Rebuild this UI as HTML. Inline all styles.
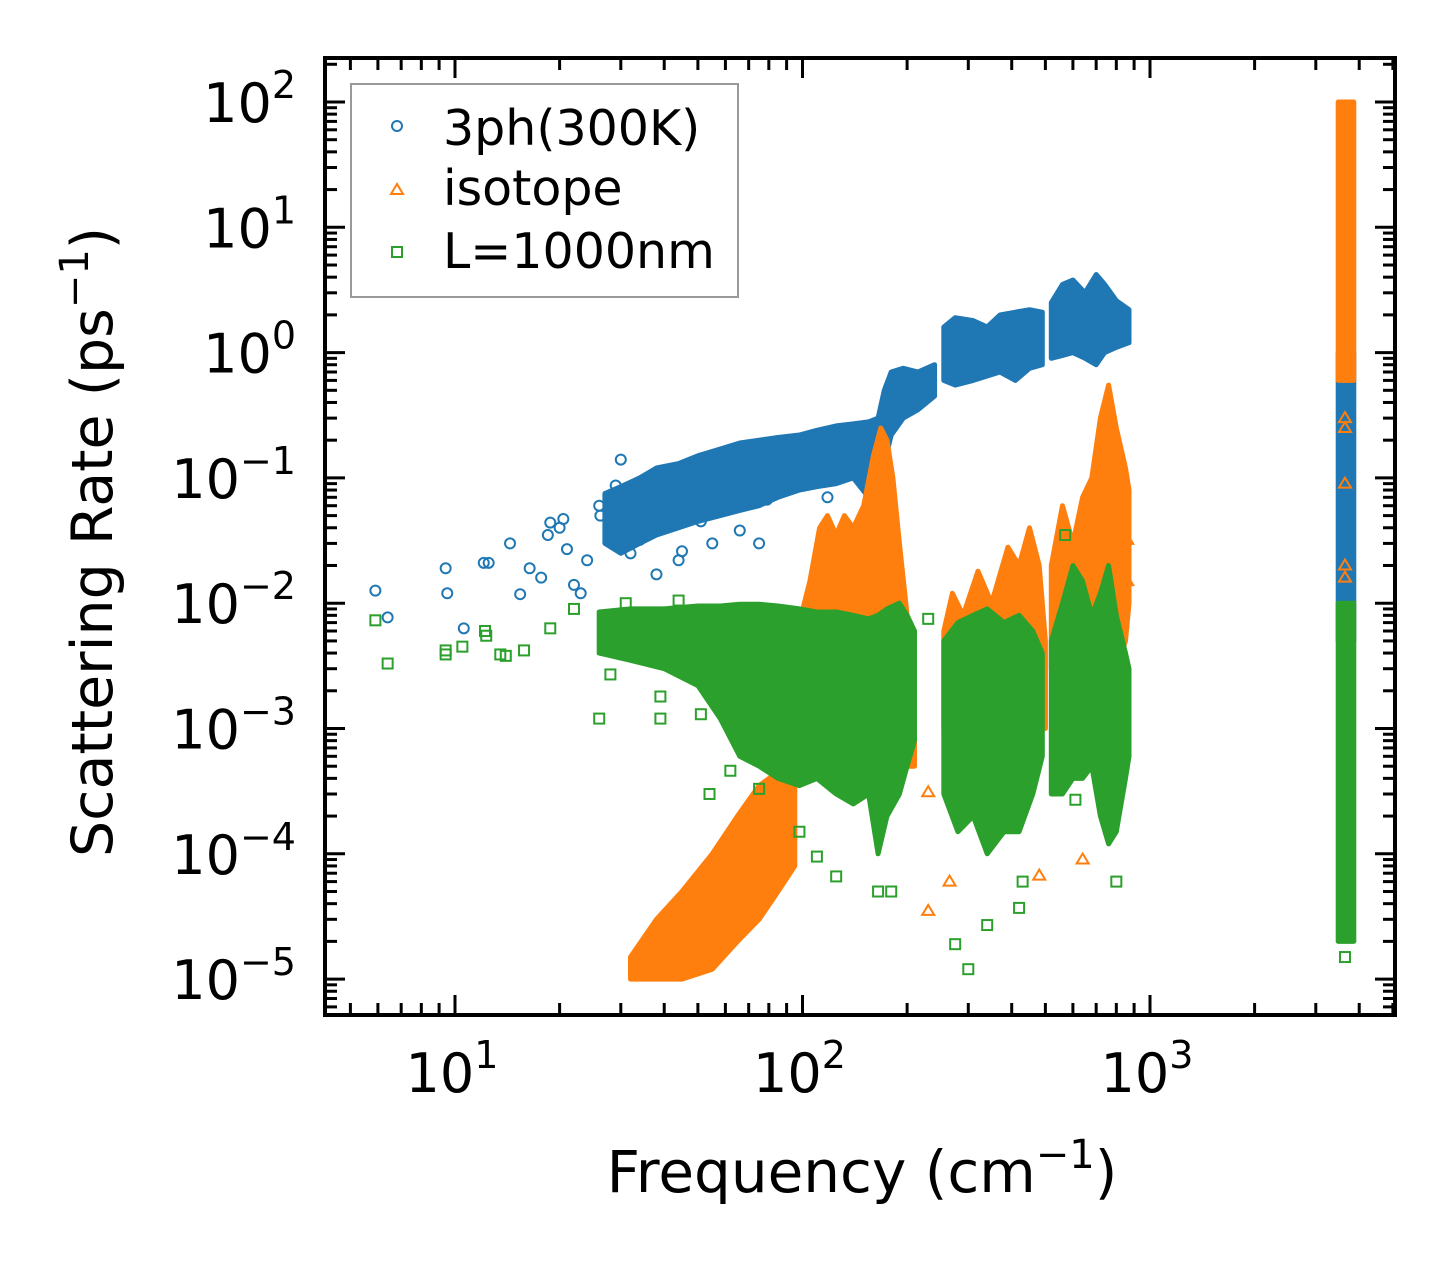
<!DOCTYPE html>
<html><head><meta charset="utf-8"><style>
html,body{margin:0;padding:0;background:#fff;}
svg text{font-family:"DejaVu Sans","Liberation Sans",sans-serif;fill:#000;}
</style></head><body>
<svg id="chart" width="1455" height="1265" viewBox="0 0 1455 1265" xmlns="http://www.w3.org/2000/svg">
<rect width="1455" height="1265" fill="#fff"/>
<g id="clusters"></g>
<g id="marks"></g>
<g id="axes"></g>
<g id="legend">
  <rect x="351" y="84" width="387" height="213" fill="#fff" fill-opacity="0.8" stroke="#999" stroke-width="2"/>
  <g>
    <circle cx="397" cy="126" r="5" fill="none" stroke="#1f77b4" stroke-width="2"/>
    <text x="443" y="145" font-size="49">3ph(300K)</text>
  </g>
  <g>
    <polygon points="397,184 391,194 403,194" fill="none" stroke="#ff7f0e" stroke-width="2"/>
    <text x="443" y="205" font-size="49">isotope</text>
  </g>
  <g>
    <rect x="392" y="247" width="10" height="10" fill="none" stroke="#2ca02c" stroke-width="2"/>
    <text x="443" y="268" font-size="49">L=1000nm</text>
  </g>
</g>
</svg>
<script>
// ---- data ----
const xMajorTicks = [10, 100, 1000];
const xTickExps = ['1', '2', '3'];
const yMajorTicks = [1e2, 1e1, 1e0, 1e-1, 1e-2, 1e-3, 1e-4, 1e-5];
const yTickExps = ['2', '1', '0', '\u22121', '\u22122', '\u22123', '\u22124', '\u22125'];

// dense clusters: [frequency, low rate, high rate]
const blueMain = [[27,0.03,0.075],[30,0.025,0.085],[34,0.03,0.1],[38,0.035,0.12],[44,0.04,0.13],[50,0.045,0.15],[58,0.05,0.17],[66,0.055,0.19],[75,0.06,0.2],[85,0.07,0.21],[98,0.08,0.22],[110,0.085,0.24],[125,0.09,0.26],[140,0.1,0.27],[155,0.07,0.28],[165,0.06,0.3],[172,0.13,0.5],[180,0.22,0.7],[195,0.3,0.75],[215,0.35,0.7],[240,0.45,0.8]];
const blueMid = [[255,0.6,1.6],[275,0.55,1.9],[310,0.6,1.8],[340,0.65,1.6],[370,0.7,2.0],[410,0.6,2.1],[450,0.75,2.2],[490,0.8,2.1]];
const blueHigh = [[520,0.9,2.5],[560,0.95,3.5],[600,1.0,3.8],[650,0.9,3.0],[700,0.8,4.2],[740,1.0,3.5],[800,1.1,2.6],[870,1.2,2.2]];
const blueRight = [[3480,0.005,1.0],[3860,0.005,1.0]];

const orangeLow = [[32,1e-5,1.5e-5],[38,1e-5,3e-5],[45,1e-5,5e-5],[55,1.2e-5,1e-4],[65,2e-5,2e-4],[75,3e-5,3.5e-4],[85,5e-5,4.5e-4],[95,8e-5,5e-4]];
const orangeMid = [[95,5e-4,0.005],[105,5e-4,0.015],[112,5e-4,0.04],[118,5e-4,0.05],[125,5e-4,0.035],[132,5e-4,0.05],[140,5e-4,0.04],[150,5e-4,0.06],[160,5e-4,0.15],[168,5e-4,0.25],[175,5e-4,0.2],[182,5e-4,0.1],[190,5e-4,0.03],[200,5e-4,0.008],[210,5e-4,0.003]];
const orangeMid2 = [[255,0.001,0.006],[270,0.001,0.012],[290,0.001,0.008],[320,0.001,0.018],[350,0.001,0.01],[390,0.001,0.028],[420,0.001,0.02],[450,0.001,0.04],[480,0.001,0.02],[500,0.001,0.005]];
const orangeHigh = [[520,0.003,0.02],[560,0.003,0.06],[600,0.003,0.03],[640,0.003,0.07],[680,0.003,0.1],[720,0.003,0.3],[760,0.003,0.55],[800,0.003,0.25],[850,0.005,0.12],[870,0.01,0.08]];
const orangeRight = [[3480,0.6,100],[3860,0.6,100]];

const greenMain = [[26,0.004,0.0085],[32,0.0035,0.009],[40,0.003,0.009],[50,0.0022,0.0095],[58,0.0012,0.0095],[66,0.0006,0.0098],[75,0.0005,0.0098],[85,0.0004,0.0095],[98,0.00035,0.009],[110,0.0004,0.0085],[125,0.0003,0.0085],[140,0.00025,0.008],[155,0.0003,0.0075],[165,0.0001,0.008],[175,0.0002,0.009],[190,0.0003,0.01],[200,0.0005,0.008],[210,0.0008,0.006]];
const greenMid = [[255,0.0003,0.005],[280,0.00015,0.007],[310,0.0002,0.008],[340,0.0001,0.009],[380,0.00015,0.007],[420,0.00015,0.008],[460,0.0003,0.006],[490,0.0006,0.004]];
const greenHigh = [[520,0.0003,0.005],[560,0.0003,0.01],[600,0.0004,0.02],[640,0.0004,0.015],[680,0.0005,0.008],[720,0.0002,0.012],[760,0.00012,0.02],[800,0.00015,0.008],[850,0.0004,0.004],[870,0.0006,0.003]];
const greenRight = [[3480,2e-5,0.01],[3860,2e-5,0.01]];

// sparse points: [frequency, rate]
const bluePoints = [[5.9,0.0126],[6.4,0.0077],[9.4,0.019],[9.5,0.012],[10.6,0.0063],[12.1,0.021],[12.5,0.021],[14.4,0.03],[15.4,0.0118],[16.4,0.019],[17.7,0.016],[18.5,0.035],[18.8,0.044],[20,0.04],[20.5,0.047],[21,0.027],[22,0.014],[23,0.012],[24,0.022],[26,0.06],[26.2,0.05],[29,0.087],[30,0.067],[30,0.14],[32,0.025],[34,0.032],[38,0.017],[44,0.022],[45,0.026],[51,0.045],[55,0.03],[66,0.038],[75,0.03],[79,0.067],[118,0.07],[3640,0.09]];
const orangePoints = [[230,3.1e-4],[230,3.5e-5],[265,6e-5],[480,6.7e-5],[640,9e-5],[860,0.015],[860,0.032],[3640,0.09],[3640,0.016],[3640,0.02],[3640,0.3],[3640,0.25]];
const greenPoints = [[5.9,0.0073],[6.4,0.0033],[9.4,0.0042],[9.4,0.0039],[10.5,0.0045],[12.2,0.006],[12.3,0.0055],[13.5,0.0039],[14,0.0038],[15.8,0.0042],[18.8,0.0063],[22,0.009],[26,0.0012],[28,0.0027],[31,0.01],[39,0.0012],[39,0.0018],[44,0.0105],[51,0.0013],[54,3e-4],[62,4.6e-4],[75,3.3e-4],[98,1.5e-4],[110,9.5e-5],[125,6.6e-5],[165,5e-5],[180,5e-5],[230,0.0075],[275,1.9e-5],[300,1.2e-5],[340,2.7e-5],[420,3.7e-5],[430,6e-5],[610,2.7e-4],[800,6e-5],[570,0.035],[718,0.0088],[3640,1.5e-5]];

// ---- axes ----
const PL = 325, PR = 1395, PT = 58, PB = 1015;
const X10 = 455, XDEC = 347.5, Y1 = 352.6, YDEC = 125.3;
function xs(f) { return X10 + XDEC * (Math.log10(f) - 1); }
function ys(r) { return Y1 - YDEC * Math.log10(r); }

const NS = 'http://www.w3.org/2000/svg';
function mk(tag, attrs, parent) {
  const e = document.createElementNS(NS, tag);
  for (const k in attrs) e.setAttribute(k, attrs[k]);
  parent.appendChild(e);
  return e;
}

const C = { blue: '#1f77b4', orange: '#ff7f0e', green: '#2ca02c' };
const gClusters = document.getElementById('clusters');
const gMarks = document.getElementById('marks');
const gAxes = document.getElementById('axes');

function cluster(arr, color, name) {
  const up = arr.map(d => xs(d[0]).toFixed(1) + ',' + ys(d[2]).toFixed(1));
  const lo = arr.slice().reverse().map(d => xs(d[0]).toFixed(1) + ',' + ys(d[1]).toFixed(1));
  const p = mk('polygon', { points: up.concat(lo).join(' '), fill: color, stroke: color, 'stroke-width': 5, 'stroke-linejoin': 'round' }, gClusters);
  
  
}
function points(arr, color, shape, name) {
  arr.forEach(d => {
    const x = xs(d[0]), y = ys(d[1]);
    let e;
    if (shape === 'circle') e = mk('circle', { cx: x, cy: y, r: 5, fill: 'none', stroke: color, 'stroke-width': 2 }, gMarks);
    else if (shape === 'tri') e = mk('polygon', { points: `${x},${y-6} ${x-6},${y+4} ${x+6},${y+4}`, fill: 'none', stroke: color, 'stroke-width': 2 }, gMarks);
    else e = mk('rect', { x: x-5, y: y-5, width: 10, height: 10, fill: 'none', stroke: color, 'stroke-width': 2 }, gMarks);
    
    
  });
}

[blueMain, blueMid, blueHigh, blueRight].forEach(a => cluster(a, C.blue, 'cluster-3ph'));
points(bluePoints, C.blue, 'circle', 'point-3ph');
[orangeLow, orangeMid, orangeMid2, orangeHigh, orangeRight].forEach(a => cluster(a, C.orange, 'cluster-isotope'));
points(orangePoints, C.orange, 'tri', 'point-isotope');
[greenMain, greenMid, greenHigh, greenRight].forEach(a => cluster(a, C.green, 'cluster-l1000nm'));
points(greenPoints, C.green, 'square', 'point-l1000nm');

// ticks
function tick(x1, y1, x2, y2, name) {
  const t = mk('line', { x1, y1, x2, y2, stroke: '#000', 'stroke-width': 3 }, gAxes);
  
  
}
for (let e = 0; e <= 3; e++) {
  for (let m = 1; m <= 9; m++) {
    const f = m * Math.pow(10, e);
    const x = xs(f);
    if (x < PL || x > PR) continue;
    const L = m === 1 ? 20 : 12;
    tick(x, PB, x, PB - L, 'x-tick');
    tick(x, PT, x, PT + L, 'x-tick-top');
  }
}
for (let e = -6; e <= 2; e++) {
  for (let m = 1; m <= 9; m++) {
    const r = m * Math.pow(10, e);
    const y = ys(r);
    if (y < PT || y > PB) continue;
    const L = m === 1 ? 20 : 12;
    tick(PL, y, PL + L, y, 'y-tick');
    tick(PR, y, PR - L, y, 'y-tick-right');
  }
}
const frame = mk('rect', { x: PL, y: PT, width: PR - PL, height: PB - PT, fill: 'none', stroke: '#000', 'stroke-width': 4 }, gAxes);



xMajorTicks.forEach((v, i) => {
  const t = mk('text', { x: xs(v) - 3, y: 1092, 'font-size': 54, 'text-anchor': 'middle' }, gAxes);
  
  
  t.textContent = '10';
  const s = mk('tspan', { 'font-size': 38, dy: -24 }, t);
  s.textContent = xTickExps[i];
});
yMajorTicks.forEach((v, i) => {
  const t = mk('text', { x: 296, y: ys(v) + 20, 'font-size': 54, 'text-anchor': 'end' }, gAxes);
  
  
  t.textContent = '10';
  const s = mk('tspan', { 'font-size': 38, dy: -24 }, t);
  s.textContent = yTickExps[i];
});

const xt = mk('text', { x: 862, y: 1192, 'font-size': 58, 'text-anchor': 'middle' }, gAxes);


xt.innerHTML = 'Frequency (cm<tspan font-size="40" dy="-24">\u22121</tspan><tspan dy="24">)</tspan>';
const yt = mk('text', { x: 0, y: 0, 'font-size': 57, 'text-anchor': 'middle', transform: 'translate(112,542) rotate(-90)' }, gAxes);


yt.innerHTML = 'Scattering Rate (ps<tspan font-size="40" dy="-24">\u22121</tspan><tspan dy="24">)</tspan>';
</script>
</body></html>
